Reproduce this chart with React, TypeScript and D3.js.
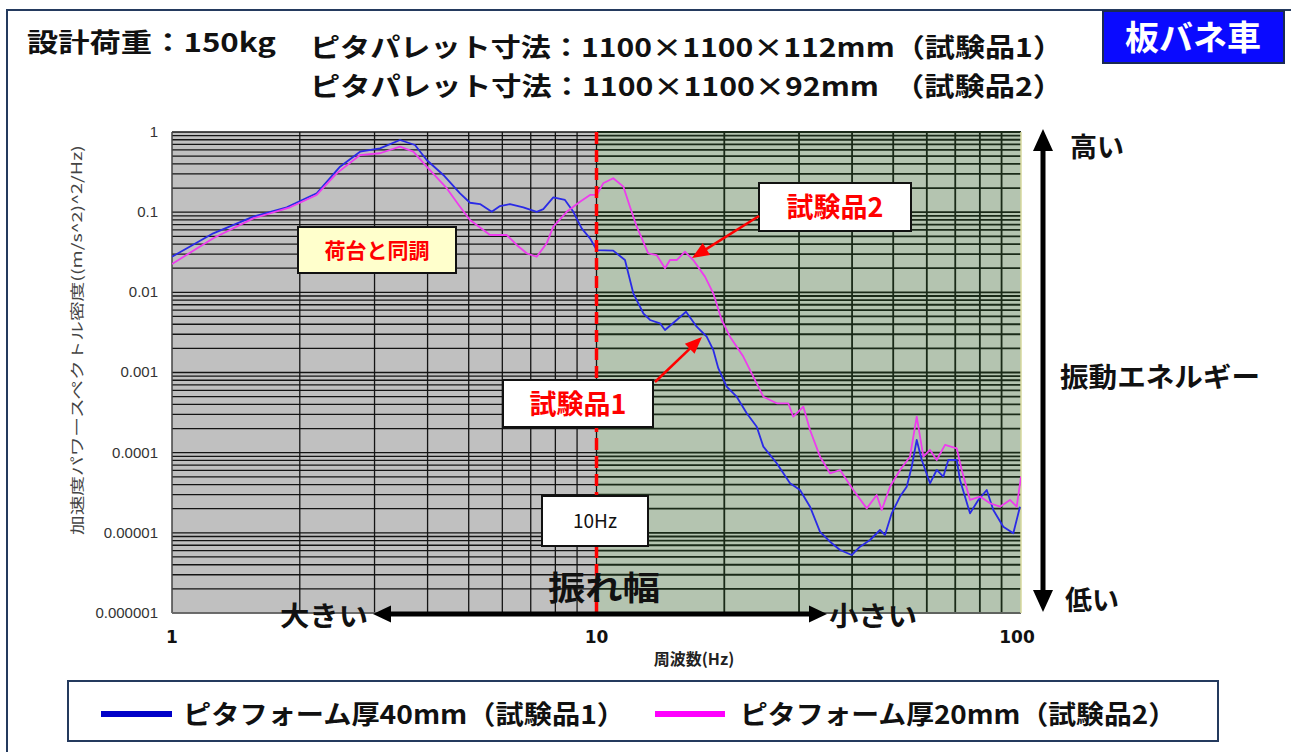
import React from 'react';
import * as d3 from 'd3';

// ---- Data ----
// Series 1: ピタフォーム厚40mm（試験品1） (blue)
const freq1 = [1.0, 1.251, 1.554, 1.863, 2.192, 2.488, 2.773, 3.09, 3.444, 3.736, 3.981, 4.357, 4.77, 5.035, 5.316, 5.665, 5.925, 6.256, 6.723, 7.23, 7.494, 7.911, 8.427, 8.819, 9.228, 9.654, 10.01, 10.95, 11.67, 12.21, 12.89, 13.37, 14.11, 14.5, 15.45, 16.25, 17.22, 18.18, 18.84, 19.36, 20.26, 21.39, 22.59, 23.85, 24.72, 26.58, 28.57, 30.16, 31.84, 33.62, 35.49, 37.47, 39.92, 41.76, 44.09, 46.54, 47.82, 49.6, 51.88, 53.8, 55.28, 56.8, 58.37, 61.04, 63.3, 65.61, 67.42, 70.56, 71.83, 75.84, 79.33, 83.04, 86.05, 90.84, 95.92, 99.45];
const psd1 = [0.0278, 0.0545, 0.0878, 0.115, 0.172, 0.369, 0.568, 0.626, 0.795, 0.688, 0.447, 0.291, 0.172, 0.131, 0.126, 0.101, 0.119, 0.126, 0.115, 0.101, 0.109, 0.153, 0.142, 0.101, 0.0629, 0.0472, 0.0337, 0.0331, 0.0253, 0.00973, 0.00548, 0.00452, 0.00411, 0.00339, 0.00452, 0.00573, 0.00373, 0.0028, 0.00191, 0.00113, 0.000665, 0.000499, 0.00031, 0.000211, 0.000119, 7.37e-5, 4.15e-5, 3.42e-5, 2.12e-5, 1.03e-5, 7.75e-6, 6.11e-6, 5.29e-6, 6.72e-6, 8.14e-6, 1.085e-5, 9.4e-6, 1.75e-5, 2.83e-5, 3.76e-5, 6.68e-5, 1.44e-4, 8.1e-5, 4.15e-5, 6.08e-5, 5.02e-5, 8.1e-5, 8.1e-5, 4.56e-5, 1.75e-5, 2.57e-5, 3.42e-5, 1.93e-5, 1.19e-5, 9.87e-6, 2.12e-5];

// Series 2: ピタフォーム厚20mm（試験品2） (magenta)
const freq2 = [1.0, 1.251, 1.554, 1.897, 2.192, 2.443, 2.773, 3.09, 3.444, 3.702, 3.981, 4.437, 4.77, 5.035, 5.613, 6.144, 6.486, 6.847, 7.23, 7.632, 7.911, 8.508, 9.143, 9.654, 10.01, 10.37, 10.95, 11.57, 11.99, 12.44, 13.24, 13.86, 14.5, 14.9, 15.45, 16.16, 16.9, 18.01, 18.84, 19.72, 20.63, 22.17, 23.41, 24.72, 26.58, 28.3, 29.08, 30.71, 31.84, 33.62, 35.49, 37.47, 40.27, 43.31, 45.72, 46.98, 49.14, 51.88, 54.77, 56.8, 58.88, 61.04, 63.3, 66.22, 70.56, 72.5, 75.84, 80.08, 84.53, 89.24, 94.21, 97.7, 100];
const psd2 = [0.0226, 0.0472, 0.0838, 0.115, 0.164, 0.305, 0.516, 0.543, 0.656, 0.568, 0.369, 0.199, 0.117, 0.0798, 0.0519, 0.0519, 0.039, 0.0307, 0.0278, 0.0409, 0.0659, 0.101, 0.135, 0.164, 0.164, 0.229, 0.265, 0.208, 0.117, 0.0659, 0.0307, 0.0292, 0.02, 0.0253, 0.0253, 0.0321, 0.0253, 0.0157, 0.00973, 0.00452, 0.0028, 0.00158, 0.000887, 0.000499, 0.000413, 0.000413, 0.000281, 0.000375, 0.000192, 8.91e-5, 5.53e-5, 6.08e-5, 3.42e-5, 2.02e-5, 2.97e-5, 1.93e-5, 3.76e-5, 6.08e-5, 8.91e-5, 0.000281, 8.91e-5, 0.000108, 8.1e-5, 0.000125, 0.000113, 6.08e-5, 2.57e-5, 2.83e-5, 2.34e-5, 2.12e-5, 2.57e-5, 2.12e-5, 5.02e-5];

const yTickValues = [1, 0.1, 0.01, 0.001, 0.0001, 0.00001, 0.000001];
const yTickLabels = ['1', '0.1', '0.01', '0.001', '0.0001', '0.00001', '0.000001'];
const xTickValues = [1, 10, 100];
const xTickLabels = ['1', '10', '100'];
const seriesNames = ['ピタフォーム厚40mm（試験品1）', 'ピタフォーム厚20mm（試験品2）'];
const seriesColors = ['#2a2ae6', '#ee3cee'];
const legendColors = ['#0000c8', '#ff00ff'];
const markerFreq = 10;

const JP = '"Noto Sans CJK JP", "Noto Sans", sans-serif';
const PL = 172, PR = 1021, PT = 132, PB = 613;

function Arrow({ x1, y1, x2, y2, color, width, head, headW, both }: any) {
  const dx = x2 - x1, dy = y2 - y1, L = Math.hypot(dx, dy);
  const ux = dx / L, uy = dy / L, px = -uy, py = ux;
  const tri = (tx: number, ty: number, dx2: number, dy2: number) => {
    const bx = tx - dx2 * head, by = ty - dy2 * head;
    return `${tx},${ty} ${bx + px * headW / 2},${by + py * headW / 2} ${bx - px * headW / 2},${by - py * headW / 2}`;
  };
  const sx = both ? x1 + ux * head * 0.9 : x1, sy = both ? y1 + uy * head * 0.9 : y1;
  const ex = x2 - ux * head * 0.9, ey = y2 - uy * head * 0.9;
  return (
    <g>
      <line x1={sx} y1={sy} x2={ex} y2={ey} stroke={color} strokeWidth={width} />
      <polygon points={tri(x2, y2, ux, uy)} fill={color} />
      {both && <polygon points={tri(x1, y1, -ux, -uy)} fill={color} />}
    </g>
  );
}

export default function App() {
  const x = d3.scaleLog().domain([1, 100]).range([PL, PR]);
  const y = d3.scaleLog().domain([1e-6, 1]).range([PB, PT]);
  const xm = x(markerFreq);
  const xGrid = x.ticks();
  const yGrid = y.ticks();
  const line = d3.line<[number, number]>().x(d => x(d[0])).y(d => y(d[1]));
  const s1 = line(freq1.map((f, i) => [f, psd1[i]] as [number, number])) || '';
  const s2 = line(freq2.map((f, i) => [f, psd2[i]] as [number, number])) || '';

  return (
    <svg width={1291} height={752} style={{ position: 'absolute', left: 0, top: 0, background: '#fff' }}>
      <defs>
        <clipPath id="plotClip"><rect x={PL} y={PT} width={PR - PL} height={PB - PT} /></clipPath>
      </defs>
      {/* outer frame */}
      <rect x={7} y={10} width={1320} height={800} fill="none" stroke="#243a5e" strokeWidth={2} />

      {/* header texts */}
      <text x={27} y={52} fontFamily={JP} fontWeight={700} fontSize={26} textLength={249} lengthAdjust="spacingAndGlyphs" fill="#111">設計荷重：150kg</text>
      <text x={310} y={57} fontFamily={JP} fontWeight={700} fontSize={26} textLength={753} lengthAdjust="spacingAndGlyphs" fill="#111">ピタパレット寸法：1100×1100×112mm（試験品1）</text>
      <text x={310} y={96} fontFamily={JP} fontWeight={700} fontSize={26} textLength={753} lengthAdjust="spacingAndGlyphs" fill="#111">ピタパレット寸法：1100×1100×92mm　（試験品2）</text>
      <rect x={1103} y={11} width={181} height={52} fill="#0a0aff" stroke="#1a2a55" strokeWidth={2} />
      <text x={1193} y={50} textAnchor="middle" fontFamily={JP} fontWeight={700} fontSize={34} fill="#fff">板バネ車</text>

      {/* plot backgrounds */}
      <rect x={PL} y={PT} width={xm - PL} height={PB - PT} fill="#c0c0c0" />
      <rect x={xm} y={PT} width={PR - xm} height={PB - PT} fill="#b4c4b0" />

      {/* grid */}
      {yGrid.map((v, i) => (
        <g key={'yg' + i}>
          <line x1={PL} x2={xm} y1={y(v)} y2={y(v)} stroke="#141414" strokeWidth={1.3} />
          <line x1={xm} x2={PR} y1={y(v)} y2={y(v)} stroke="#1a2a18" strokeWidth={1.8} />
        </g>
      ))}
      {xGrid.filter(v => v > 1 && v < 100).map((v, i) => (
        <line key={'xg' + i} x1={x(v)} x2={x(v)} y1={PT} y2={PB} stroke={v <= 10 ? '#141414' : '#1a2a18'} strokeWidth={v <= 10 ? 1.3 : 1.8} />
      ))}
      <line x1={PL} x2={PL} y1={PT} y2={PB} stroke="#444" strokeWidth={1.5} />
      <line x1={PL} x2={PR} y1={PB} y2={PB} stroke="#777" strokeWidth={1.5} />
      <line x1={PR} x2={PR} y1={PT} y2={PB} stroke="#d6d89c" strokeWidth={1.5} />

      {/* series */}
      <g clipPath="url(#plotClip)">
        <path d={s1} fill="none" stroke={seriesColors[0]} strokeWidth={1.8} strokeLinejoin="round" />
        <path d={s2} fill="none" stroke={seriesColors[1]} strokeWidth={1.8} strokeLinejoin="round" />
      </g>

      {/* 10Hz marker */}
      <line x1={xm} x2={xm} y1={PT} y2={PB} stroke="#ff0000" strokeWidth={3.5} strokeDasharray="12 6" />

      {/* y ticks */}
      {yTickValues.map((v, i) => (
        <text key={'yt' + i} x={158} y={y(v) + 1} textAnchor="end" dominantBaseline="middle" fontFamily='"Liberation Sans", Arial, sans-serif' fontSize={15} fill="#333">{yTickLabels[i]}</text>
      ))}
      <text transform="translate(82,340) rotate(-90)" textAnchor="middle" fontFamily={JP} fontSize={14} fill="#444" textLength={390} lengthAdjust="spacingAndGlyphs">加速度パワースペクトル密度((m/s^2)^2/Hz)</text>

      {/* x ticks */}
      {xTickValues.map((v, i) => (
        <text key={'xt' + i} x={x(v) - (v === 100 ? 4 : 0)} y={643} textAnchor="middle" fontFamily='"DejaVu Sans", sans-serif' fontWeight={700} fontSize={17} fill="#111">{xTickLabels[i]}</text>
      ))}
      <text x={694} y={665} textAnchor="middle" fontFamily={JP} fontWeight={700} fontSize={16} fill="#222">周波数(Hz)</text>

      {/* annotations */}
      <rect x={298} y={227} width={158} height={46} fill="#ffffcc" stroke="#111" strokeWidth={2} />
      <text x={377} y={258} textAnchor="middle" fontFamily={JP} fontWeight={700} fontSize={21} fill="#ff0000">荷台と同調</text>

      <rect x={759} y={183} width={152} height={48} fill="#fff" stroke="#111" strokeWidth={2} />
      <text x={835} y={217} textAnchor="middle" fontFamily={JP} fontWeight={700} fontSize={27} fill="#ff0000">試験品2</text>
      <Arrow x1={759} y1={216} x2={692} y2={258} color="#ff0000" width={2.5} head={17} headW={14} />

      <rect x={503} y={380} width={150} height={47} fill="#fff" stroke="#111" strokeWidth={2} />
      <text x={578} y={414} textAnchor="middle" fontFamily={JP} fontWeight={700} fontSize={27} fill="#ff0000">試験品1</text>
      <Arrow x1={655} y1={382} x2={702} y2={337} color="#ff0000" width={2.5} head={17} headW={14} />

      <rect x={542} y={496} width={106} height={50} fill="#fff" stroke="#111" strokeWidth={2} />
      <text x={595} y={528} textAnchor="middle" fontFamily={JP} fontSize={19} fill="#111">10Hz</text>

      <text x={604} y={600} textAnchor="middle" fontFamily={JP} fontWeight={700} fontSize={33} textLength={112} lengthAdjust="spacingAndGlyphs" fill="#111">振れ幅</text>

      <Arrow x1={373} y1={614} x2={827} y2={614} color="#000" width={5} head={18} headW={17} both />
      <text x={280} y={626} fontFamily={JP} fontWeight={700} fontSize={27} textLength={88} lengthAdjust="spacingAndGlyphs" fill="#111">大きい</text>
      <text x={829} y={626} fontFamily={JP} fontWeight={700} fontSize={27} textLength={88} lengthAdjust="spacingAndGlyphs" fill="#111">小さい</text>

      <Arrow x1={1043} y1={129} x2={1043} y2={612} color="#000" width={5} head={22} headW={20} both />
      <text x={1070} y={157} fontFamily={JP} fontWeight={700} fontSize={27} fill="#111">高い</text>
      <text x={1060} y={387} fontFamily={JP} fontWeight={700} fontSize={27} textLength={200} lengthAdjust="spacingAndGlyphs" fill="#111">振動エネルギー</text>
      <text x={1065} y={610} fontFamily={JP} fontWeight={700} fontSize={27} fill="#111">低い</text>

      {/* legend */}
      <rect x={68} y={681} width={1150} height={60} fill="#fff" stroke="#243a5e" strokeWidth={2} />
      <line x1={101} x2={172} y1={714} y2={714} stroke={legendColors[0]} strokeWidth={6} />
      <text x={183} y={724} fontFamily={JP} fontWeight={700} fontSize={26} textLength={442} lengthAdjust="spacingAndGlyphs" fill="#111">{seriesNames[0]}</text>
      <line x1={655} x2={725} y1={714} y2={714} stroke={legendColors[1]} strokeWidth={6} />
      <text x={740} y={724} fontFamily={JP} fontWeight={700} fontSize={26} textLength={436} lengthAdjust="spacingAndGlyphs" fill="#111">{seriesNames[1]}</text>
    </svg>
  );
}
